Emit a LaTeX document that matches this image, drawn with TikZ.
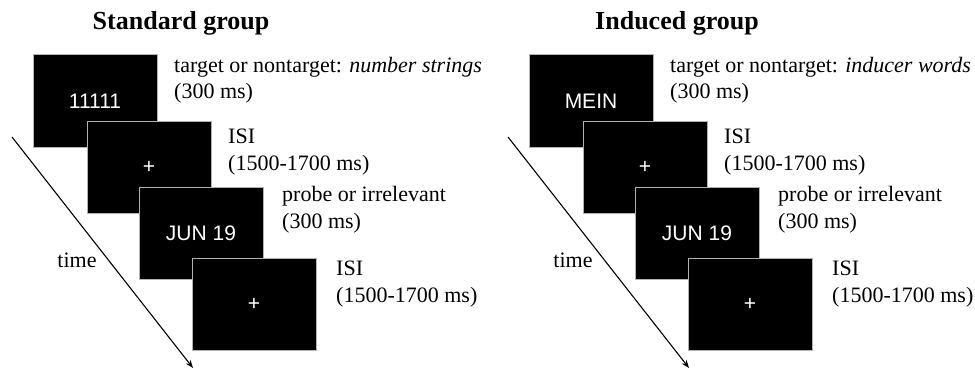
\documentclass[tikz,border=0pt]{standalone}
\usepackage{fontspec}
\setmainfont{Liberation Serif}
\newfontfamily\boxfont{Liberation Sans}
\usetikzlibrary{arrows.meta}
\tikzset{
  screen/.style={rectangle, fill=black, draw=black!30, line width=1pt,
    minimum width=124pt, minimum height=92pt, inner sep=0pt,
    text=white, font=\boxfont\fontsize{21}{25}\selectfont},
  lbl/.style={anchor=base west, align=left, inner sep=0pt,
    font=\fontsize{22}{26.5}\selectfont},
  ttl/.style={anchor=base, inner sep=0pt, font=\bfseries\fontsize{26}{30}\selectfont},
  timearrow/.style={line width=1.1pt, -{Stealth[length=8pt,width=6pt]}},
  timelbl/.style={anchor=base, inner sep=0pt, font=\fontsize{22}{26}\selectfont}
}
\begin{document}
\begin{tikzpicture}[x=1pt,y=-1pt]
\useasboundingbox (0,0) rectangle (975,369);
% ---------- Standard group ----------
\node[ttl] (tA) at (181,30) {Standard group};
\coordinate (aS) at (12,137);
\coordinate (aE) at (193,368);
\draw[timearrow] (aS) -- (aE);
\node[timelbl] (timeA) at (77,267) {time};
\node[screen] (A1) at (95,101) {11111};
\node[screen] (A2) at (149,167) {+};
\node[screen] (A3) at (201,233) {JUN 19};
\node[screen] (A4) at (254,304.5) {+};
% anchor base = baseline of the last line
\node[lbl] (LA1) at (174,99) {target or nontarget: \textit{number strings}\\(300 ms)};
\node[lbl] (LA2) at (228,170) {ISI\\(1500-1700 ms)};
\node[lbl] (LA3) at (282,228) {probe or irrelevant\\(300 ms)};
\node[lbl] (LA4) at (336,302) {ISI\\(1500-1700 ms)};
% ---------- Induced group ----------
\node[ttl] (tB) at (677,30) {Induced group};
\coordinate (bS) at (508,137);
\coordinate (bE) at (689,368);
\draw[timearrow] (bS) -- (bE);
\node[timelbl] (timeB) at (573,267) {time};
\node[screen] (B1) at (591,101) {MEIN};
\node[screen] (B2) at (645,167) {+};
\node[screen] (B3) at (697,233) {JUN 19};
\node[screen] (B4) at (750,304.5) {+};
\node[lbl] (LB1) at (670,99) {target or nontarget: \textit{inducer words}\\(300 ms)};
\node[lbl] (LB2) at (724,170) {ISI\\(1500-1700 ms)};
\node[lbl] (LB3) at (778,228) {probe or irrelevant\\(300 ms)};
\node[lbl] (LB4) at (832,302) {ISI\\(1500-1700 ms)};
\end{tikzpicture}
\end{document}
